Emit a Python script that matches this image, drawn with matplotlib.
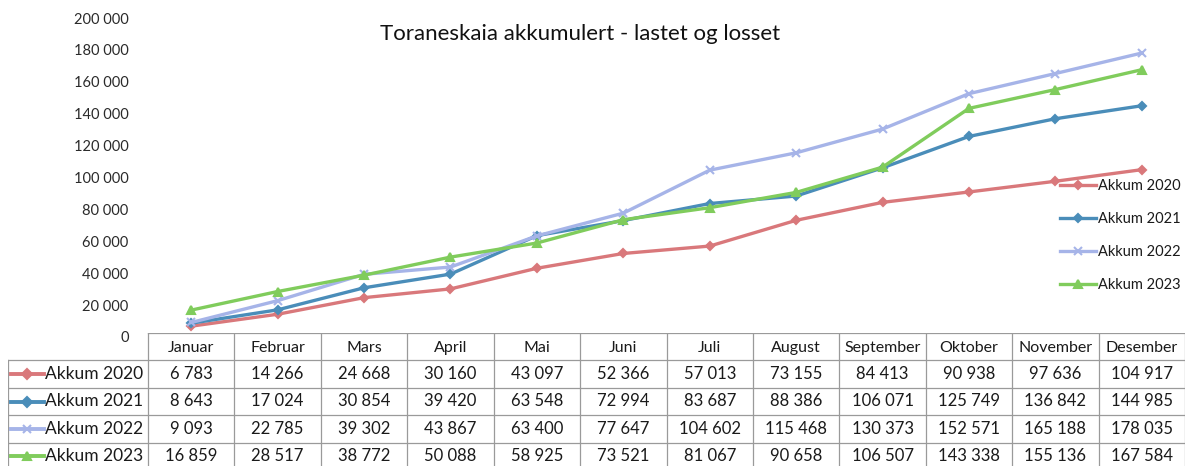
import matplotlib
matplotlib.use("Agg")
import matplotlib.pyplot as plt

plt.rcParams['font.family'] = ['Lato', 'DejaVu Sans']

months = ["Januar", "Februar", "Mars", "April", "Mai", "Juni", "Juli",
          "August", "September", "Oktober", "November", "Desember"]
series_names = ["Akkum 2020", "Akkum 2021", "Akkum 2022", "Akkum 2023"]
akkum_2020 = [6783, 14266, 24668, 30160, 43097, 52366, 57013, 73155, 84413, 90938, 97636, 104917]
akkum_2021 = [8643, 17024, 30854, 39420, 63548, 72994, 83687, 88386, 106071, 125749, 136842, 144985]
akkum_2022 = [9093, 22785, 39302, 43867, 63400, 77647, 104602, 115468, 130373, 152571, 165188, 178035]
akkum_2023 = [16859, 28517, 38772, 50088, 58925, 73521, 81067, 90658, 106507, 143338, 155136, 167584]
y_ticks = [0, 20000, 40000, 60000, 80000, 100000, 120000, 140000, 160000, 180000, 200000]
title = "Toraneskaia akkumulert - lastet og losset"

all_series = [akkum_2020, akkum_2021, akkum_2022, akkum_2023]
colors = ["#D9787B", "#4A8DB9", "#A6B4E8", "#80CC5C"]
markers = ["D", "D", "x", "^"]

W, H = 1188, 466
fig = plt.figure(figsize=(W / 100, H / 100), dpi=100)

def fx(px):
    return px / W

def fy(py):
    return 1 - py / H

x_left, x_right = 148, 1185
y_top, y_zero = 18, 337
ax = fig.add_axes([fx(x_left), fy(y_zero), fx(x_right - x_left), (y_zero - y_top) / H])
xs = list(range(len(months)))
handles = []
for name, vals, c, m in zip(series_names, all_series, colors, markers):
    h, = ax.plot(xs, vals, color=c, lw=2.4, marker=m, ms=4.5 if m == "D" else 5.5,
                 mew=1.5, label=name, solid_joinstyle="round")
    handles.append(h)
ax.set_xlim(-0.5, len(months) - 0.5)
ax.set_ylim(0, 200000)
ax.set_yticks(y_ticks)
ax.set_yticklabels([f"{v:,.0f}".replace(",", " ") for v in y_ticks], fontsize=10.5, color="#2a2a2a")
ax.tick_params(axis="y", length=0, pad=14)
ax.set_xticks([])
for s in ["top", "right", "left", "bottom"]:
    ax.spines[s].set_visible(False)
ax.patch.set_alpha(0)

fig.text(fx(580), fy(34), title, ha="center", va="center", fontsize=16, color="#111111")

leg = fig.legend(handles=handles, loc="upper left", bbox_to_anchor=(fx(1054), fy(173)),
                 frameon=False, fontsize=10.5, handlelength=2.5, handletextpad=0.1,
                 labelspacing=1.3, borderaxespad=0)
for t in leg.get_texts():
    t.set_color("#1a1a1a")

# Data table
t_top, t_bot = 333, 470
tl = 8
tab = fig.add_axes([fx(tl), fy(t_bot), fx(x_right - tl), (t_bot - t_top) / H])
col_w = (x_right - x_left) / len(months)
left_edge = -0.5 - (x_left - tl) / col_w
tab.set_xlim(left_edge, len(months) - 0.5)
n_rows = len(series_names) + 1
tab.set_ylim(n_rows, 0)
tab.axis("off")
gc = "#9a9a9a"
for r in range(n_rows + 1):
    x0 = -0.5 if r == 0 else left_edge
    tab.plot([x0, len(months) - 0.5], [r, r], color=gc, lw=0.9)
for i in range(len(months) + 1):
    tab.plot([i - 0.5, i - 0.5], [0, n_rows], color=gc, lw=0.9)
tab.plot([left_edge, left_edge], [1, n_rows], color=gc, lw=0.9)
for i, mname in enumerate(months):
    tab.text(i, 0.55, mname, ha="center", va="center", fontsize=11.5, color="#1a1a1a")
for r, (name, vals, c, m) in enumerate(zip(series_names, all_series, colors, markers), start=1):
    kx0 = left_edge + 0.03
    kx1 = left_edge + 0.42
    tab.plot([kx0, kx1], [r + 0.5, r + 0.5], color=c, lw=2.8)
    tab.plot([(kx0 + kx1) / 2], [r + 0.5], color=c, marker=m, ms=5 if m == "D" else 6, mew=1.5)
    tab.text(kx1 + 0.01, r + 0.5, name, ha="left", va="center", fontsize=12.5, color="#1a1a1a")
    for i, v in enumerate(vals):
        tab.text(i, r + 0.5, f"{v:,.0f}".replace(",", " "), ha="center", va="center",
                 fontsize=12, color="#1a1a1a")

fig.savefig("out.png", dpi=100)
